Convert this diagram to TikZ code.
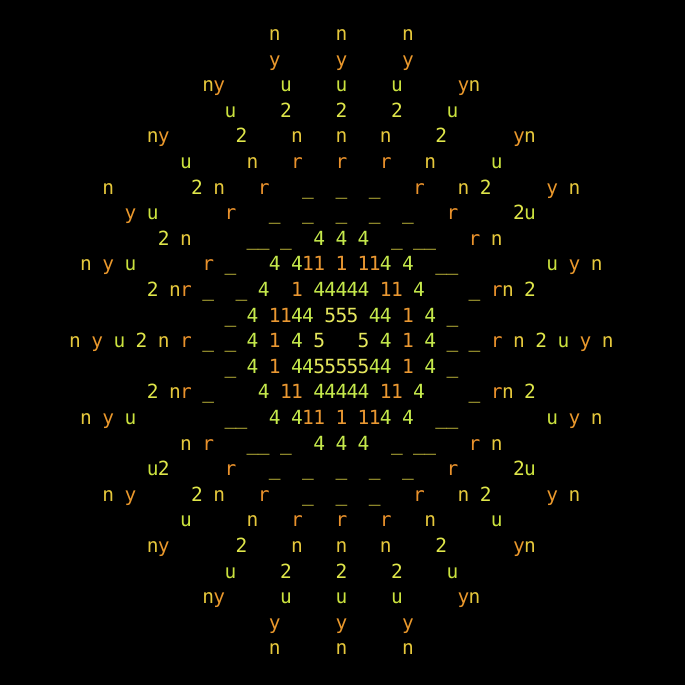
\documentclass[tikz,border=0pt]{standalone}
\usepackage{fontspec}
\newfontfamily\termfont{DejaVu Sans Mono}

\definecolor{glyphN}{HTML}{E6C83C}
\definecolor{glyphY}{HTML}{EA982C}
\definecolor{glyphU}{HTML}{CBE23E}
\definecolor{glyphTwo}{HTML}{DFE64A}
\definecolor{glyphR}{HTML}{EA922C}
\definecolor{glyphBar}{HTML}{E4DA46}
\definecolor{glyphFour}{HTML}{C6EA4C}
\definecolor{glyphOne}{HTML}{EA9832}
\definecolor{glyphFive}{HTML}{E6E85E}

% one row of the screen: column/character pairs (b is the underscore)
\newcommand{\glyphRow}[2]{%
  \foreach \col/\ch in {#2}
    \node[glyph, glyph \ch, name=g#1-\col, at={(75+\col*11.1, -40.5-#1*25.6)}];
}

\begin{document}
\begin{tikzpicture}[x=1pt,y=1pt]

  \tikzstyle{glyph} = [inner sep=0pt, anchor=base, font={\termfont\fontsize{19.5}{19.5}\selectfont}]
  \tikzstyle{glyph n} = [text=glyphN, node contents=n]
  \tikzstyle{glyph y} = [text=glyphY, node contents=y]
  \tikzstyle{glyph u} = [text=glyphU, node contents=u]
  \tikzstyle{glyph 2} = [text=glyphTwo, node contents=2]
  \tikzstyle{glyph r} = [text=glyphR, node contents=r]
  \tikzstyle{glyph b} = [text=glyphBar, node contents=\_]
  \tikzstyle{glyph 4} = [text=glyphFour, node contents=4]
  \tikzstyle{glyph 1} = [text=glyphOne, node contents=1]
  \tikzstyle{glyph 5} = [text=glyphFive, node contents=5]

  % black screen, also fixes the size
  \fill[black] (0,0) rectangle (685,-685);

  % upper half
  \glyphRow{0}{18/n,24/n,30/n}
  \glyphRow{1}{18/y,24/y,30/y}
  \glyphRow{2}{12/n,13/y,19/u,24/u,29/u,35/y,36/n}
  \glyphRow{3}{14/u,19/2,24/2,29/2,34/u}
  \glyphRow{4}{7/n,8/y,15/2,20/n,24/n,28/n,33/2,40/y,41/n}
  \glyphRow{5}{10/u,16/n,20/r,24/r,28/r,32/n,38/u}
  \glyphRow{6}{3/n,11/2,13/n,17/r,21/b,24/b,27/b,31/r,35/n,37/2,43/y,45/n}
  \glyphRow{7}{5/y,7/u,14/r,18/b,21/b,24/b,27/b,30/b,34/r,40/2,41/u}
  \glyphRow{8}{8/2,10/n,16/b,17/b,19/b,22/4,24/4,26/4,29/b,31/b,32/b,36/r,38/n}
  \glyphRow{9}{1/n,3/y,5/u,12/r,14/b,18/4,20/4,21/1,22/1,24/1,26/1,27/1,28/4,30/4,33/b,34/b,43/u,45/y,47/n}
  \glyphRow{10}{7/2,9/n,10/r,12/b,15/b,17/4,20/1,22/4,23/4,24/4,25/4,26/4,28/1,29/1,31/4,36/b,38/r,39/n,41/2}
  \glyphRow{11}{14/b,16/4,18/1,19/1,20/4,21/4,23/5,24/5,25/5,27/4,28/4,30/1,32/4,34/b}

  % middle row
  \glyphRow{12}{0/n,2/y,4/u,6/2,8/n,10/r,12/b,14/b,16/4,18/1,20/4,22/5,26/5,28/4,30/1,32/4,34/b,36/b,38/r,40/n,42/2,44/u,46/y,48/n}

  % lower half
  \glyphRow{13}{14/b,16/4,18/1,20/4,21/4,22/5,23/5,24/5,25/5,26/5,27/4,28/4,30/1,32/4,34/b}
  \glyphRow{14}{7/2,9/n,10/r,12/b,17/4,19/1,20/1,22/4,23/4,24/4,25/4,26/4,28/1,29/1,31/4,36/b,38/r,39/n,41/2}
  \glyphRow{15}{1/n,3/y,5/u,14/b,15/b,18/4,20/4,21/1,22/1,24/1,26/1,27/1,28/4,30/4,33/b,34/b,43/u,45/y,47/n}
  \glyphRow{16}{10/n,12/r,16/b,17/b,19/b,22/4,24/4,26/4,29/b,31/b,32/b,36/r,38/n}
  \glyphRow{17}{7/u,8/2,14/r,18/b,21/b,24/b,27/b,30/b,34/r,40/2,41/u}
  \glyphRow{18}{3/n,5/y,11/2,13/n,17/r,21/b,24/b,27/b,31/r,35/n,37/2,43/y,45/n}
  \glyphRow{19}{10/u,16/n,20/r,24/r,28/r,32/n,38/u}
  \glyphRow{20}{7/n,8/y,15/2,20/n,24/n,28/n,33/2,40/y,41/n}
  \glyphRow{21}{14/u,19/2,24/2,29/2,34/u}
  \glyphRow{22}{12/n,13/y,19/u,24/u,29/u,35/y,36/n}
  \glyphRow{23}{18/y,24/y,30/y}
  \glyphRow{24}{18/n,24/n,30/n}

\end{tikzpicture}
\end{document}
